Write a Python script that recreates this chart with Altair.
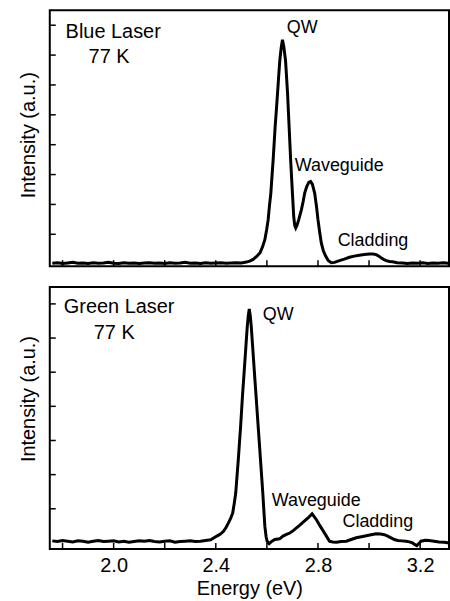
import altair as alt
import pandas as pd

# ---------------- data ----------------
top_energy = [1.760, 1.780, 1.800, 1.820, 1.840, 1.860, 1.880, 1.900, 1.920, 1.940,
              1.960, 1.980, 2.000, 2.020, 2.040, 2.060, 2.080, 2.100, 2.120, 2.140,
              2.160, 2.180, 2.200, 2.220, 2.240, 2.260, 2.280, 2.300, 2.320, 2.340,
              2.360, 2.380, 2.400, 2.420, 2.440, 2.460, 2.480, 2.500, 2.520, 2.535,
              2.546, 2.560, 2.573, 2.583, 2.592, 2.599, 2.605, 2.610, 2.6155, 2.620,
              2.6245, 2.6285, 2.6323, 2.637, 2.6416, 2.646, 2.6506, 2.656, 2.661, 2.666,
              2.673, 2.677, 2.681, 2.684, 2.687, 2.690, 2.693, 2.6965, 2.700, 2.705,
              2.709, 2.713, 2.718, 2.725, 2.735, 2.742, 2.748, 2.756, 2.764, 2.771,
              2.778, 2.787, 2.794, 2.800, 2.807, 2.813, 2.821, 2.830, 2.840, 2.852,
              2.865, 2.884, 2.903, 2.923, 2.942, 2.962, 2.982, 3.001, 3.015, 3.028,
              3.040, 3.047, 3.057, 3.067, 3.080, 3.092, 3.110, 3.131, 3.150, 3.170,
              3.190, 3.210, 3.230, 3.250, 3.270, 3.290, 3.310]
top_intensity = [0.03, 0.05, 0.02, 0.04, 0.06, 0.03, 0.04, 0.02, 0.05, 0.03,
                 0.04, 0.06, 0.03, 0.02, 0.05, 0.03, 0.04, 0.02, 0.04, 0.05,
                 0.03, 0.04, 0.02, 0.05, 0.03, 0.04, 0.06, 0.03, 0.04, 0.02,
                 0.05, 0.03, 0.04, 0.05, 0.03, 0.04, 0.05, 0.04, 0.07, 0.11,
                 0.16, 0.26, 0.38, 0.58, 0.82, 1.15, 1.49, 1.95, 2.38, 2.95,
                 3.49, 4.05, 4.60, 5.15, 5.71, 6.27, 6.82, 7.25, 7.51, 7.30,
                 6.82, 6.27, 5.71, 5.15, 4.60, 4.05, 3.49, 2.93, 2.38, 1.60,
                 1.30, 1.21, 1.30, 1.50, 1.82, 2.10, 2.38, 2.60, 2.74, 2.77,
                 2.68, 2.38, 1.95, 1.49, 1.05, 0.71, 0.45, 0.27, 0.12, 0.05,
                 0.06, 0.12, 0.17, 0.23, 0.27, 0.30, 0.32, 0.34, 0.34, 0.32,
                 0.26, 0.21, 0.16, 0.12, 0.09, 0.08, 0.05, 0.04, 0.02, 0.04,
                 0.03, 0.05, 0.02, 0.04, 0.03, 0.05, 0.03]

bottom_energy = [1.760, 1.780, 1.800, 1.820, 1.840, 1.860, 1.880, 1.900, 1.920, 1.940,
                 1.960, 1.980, 2.000, 2.020, 2.040, 2.060, 2.080, 2.100, 2.120, 2.140,
                 2.160, 2.180, 2.200, 2.220, 2.240, 2.260, 2.280, 2.300, 2.320, 2.340,
                 2.360, 2.380, 2.404, 2.418, 2.430, 2.440, 2.449, 2.458, 2.466, 2.472,
                 2.478, 2.483, 2.488, 2.4925, 2.497, 2.501, 2.505, 2.5095, 2.514, 2.5185,
                 2.523, 2.527, 2.531, 2.535, 2.539, 2.5435, 2.548, 2.5525, 2.557, 2.5615,
                 2.566, 2.5705, 2.575, 2.5795, 2.584, 2.588, 2.592, 2.597, 2.601, 2.609,
                 2.620, 2.631, 2.650, 2.663, 2.677, 2.690, 2.703, 2.716, 2.729, 2.741,
                 2.761, 2.777, 2.794, 2.803, 2.813, 2.823, 2.833, 2.845, 2.858, 2.872,
                 2.891, 2.911, 2.930, 2.950, 2.970, 2.989, 3.008, 3.028, 3.045, 3.060,
                 3.073, 3.086, 3.099, 3.112, 3.128, 3.145, 3.158, 3.170, 3.180, 3.187,
                 3.195, 3.203, 3.220, 3.235, 3.255, 3.274, 3.295, 3.313]
bottom_intensity = [0.06, 0.04, 0.07, 0.05, 0.03, 0.06, 0.05, 0.02, 0.05, 0.07,
                    0.04, 0.05, 0.06, 0.03, 0.05, 0.02, 0.04, 0.06, 0.05, 0.07,
                    0.04, 0.03, 0.05, 0.06, 0.02, 0.04, 0.05, 0.06, 0.04, 0.05,
                    0.07, 0.09, 0.20, 0.26, 0.34, 0.45, 0.58, 0.72, 0.87, 1.15,
                    1.46, 1.95, 2.43, 2.92, 3.40, 3.88, 4.37, 4.85, 5.34, 5.83,
                    6.32, 6.65, 6.85, 6.65, 6.32, 5.83, 5.34, 4.85, 4.37, 3.88,
                    3.40, 2.92, 2.43, 1.95, 1.46, 0.97, 0.49, 0.18, 0.05, -0.02,
                    0.05, 0.10, 0.12, 0.20, 0.25, 0.29, 0.36, 0.44, 0.52, 0.60,
                    0.73, 0.85, 0.68, 0.56, 0.44, 0.32, 0.20, 0.05, 0.03, 0.02,
                    0.04, 0.05, 0.10, 0.15, 0.18, 0.21, 0.24, 0.27, 0.26, 0.24,
                    0.20, 0.15, 0.10, 0.07, 0.06, 0.05, 0.03, 0.00, -0.05, -0.08,
                    -0.02, 0.05, 0.08, 0.07, 0.05, 0.03, 0.02, 0.00]

x_tick_values = [1.8, 2.0, 2.2, 2.4, 2.6, 2.8, 3.0, 3.2]
x_label_values = [2.0, 2.4, 2.8, 3.2]
top_y_ticks = [1, 2, 3, 4, 5, 6, 7, 8]
bottom_y_ticks = [1, 2, 3, 4, 5, 6, 7]

top_title_text = ["Blue Laser", "77 K"]
top_title_x = [1.812, 1.902]
top_title_y = [7.77, 6.93]
top_peak_text = ["QW", "Waveguide", "Cladding"]
top_peak_x = [2.678, 2.709, 2.877]
top_peak_y = [7.90, 3.30, 0.77]

bottom_title_text = ["Green Laser", "77 K"]
bottom_title_x = [1.805, 1.922]
bottom_title_y = [6.91, 6.15]
bottom_peak_text = ["QW", "Waveguide", "Cladding"]
bottom_peak_x = [2.584, 2.619, 2.896]
bottom_peak_y = [6.68, 1.22, 0.61]

X_DOMAIN = [1.75, 3.313]
FONT = "Liberation Sans"


def panel(energy, intensity, y_domain, y_ticks, height, title_t, title_x, title_y,
          peak_t, peak_x, peak_y, bottom_axis, title_y_pos):
    xscale = alt.Scale(domain=X_DOMAIN, nice=False, zero=False)
    yscale = alt.Scale(domain=y_domain, nice=False, zero=False)
    if bottom_axis:
        xaxis = alt.Axis(values=x_label_values, format=".1f", ticks=False, tickSize=0,
                         domain=False, grid=False, labelFontSize=20, labelPadding=7,
                         labelFont=FONT, labelColor="black", title="Energy (eV)",
                         titleFontSize=20, titleFont=FONT, titleFontWeight="normal",
                         titleColor="black", titlePadding=3)
    else:
        xaxis = None
    yaxis = alt.Axis(labels=False, ticks=False, tickSize=0, domain=False, grid=False,
                     title="Intensity (a.u.)", titleFontSize=20, titleFont=FONT,
                     titleFontWeight="normal", titleColor="black", titlePadding=11,
                     titleY=title_y_pos)

    def X():
        return alt.X("E:Q", scale=xscale, axis=xaxis)

    def Y():
        return alt.Y("I:Q", scale=yscale, axis=yaxis)

    df = pd.DataFrame({"E": energy, "I": intensity})
    line = alt.Chart(df).mark_line(color="black", strokeWidth=3, clip=True).encode(
        x=X(), y=Y(), order="E:Q",
    )
    xt = alt.Chart(pd.DataFrame({"E": x_tick_values})).mark_rule(
        color="black", strokeWidth=1.5).encode(
        x=X(), y=alt.value(height), y2=alt.value(height - 6),
    )
    yt = alt.Chart(pd.DataFrame({"I": y_ticks})).mark_rule(
        color="black", strokeWidth=1.5).encode(
        y=Y(), x=alt.value(0), x2=alt.value(6),
    )
    t1 = alt.Chart(pd.DataFrame({"label": title_t, "E": title_x, "I": title_y})).mark_text(
        align="left", baseline="middle", fontSize=20, font=FONT, color="black").encode(
        x=X(), y=Y(), text="label:N",
    )
    t2 = alt.Chart(pd.DataFrame({"label": peak_t, "E": peak_x, "I": peak_y})).mark_text(
        align="left", baseline="middle", fontSize=18, font=FONT, color="black").encode(
        x=X(), y=Y(), text="label:N",
    )
    return alt.layer(line, xt, yt, t1, t2).properties(width=401, height=height)


top = panel(top_energy, top_intensity, [-0.0667, 8.5], top_y_ticks, 257,
            top_title_text, top_title_x, top_title_y,
            top_peak_text, top_peak_x, top_peak_y, False, 125)
bottom = panel(bottom_energy, bottom_intensity, [-0.175, 7.493], bottom_y_ticks, 263,
               bottom_title_text, bottom_title_x, bottom_title_y,
               bottom_peak_text, bottom_peak_x, bottom_peak_y, True, 112)

chart = alt.vconcat(top, bottom, spacing=18).resolve_scale(
    y="independent"
).configure_view(
    stroke="black", strokeWidth=2
).properties(
    padding={"left": 18, "top": 8, "right": 0, "bottom": 0},
    background="white",
)

chart.save("out.html", embed_options={"renderer": "svg", "actions": False})
